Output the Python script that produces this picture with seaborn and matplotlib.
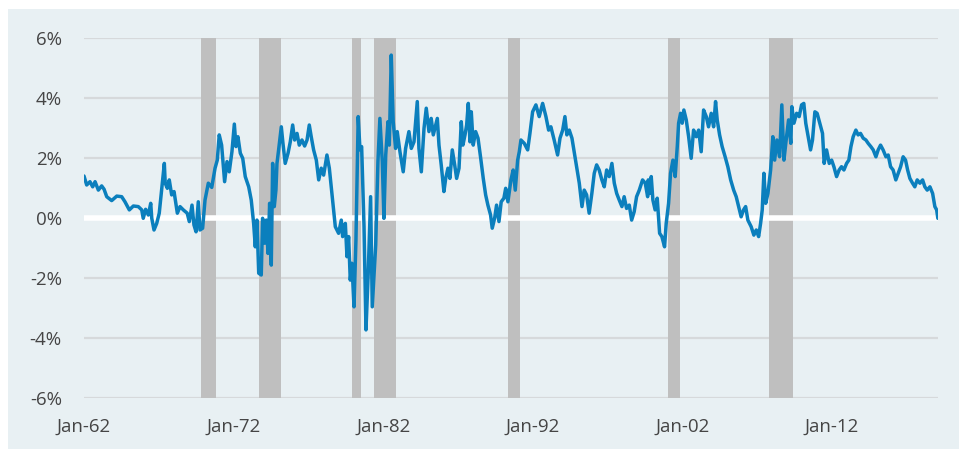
import pandas as pd
import matplotlib.pyplot as plt
import seaborn as sns
from matplotlib.patches import Rectangle


# --- spread series (decimal year, percent) ---
years = [
    1962.00, 1962.18, 1962.40, 1962.58, 1962.74, 1962.96, 1963.18, 1963.34, 1963.52, 1963.85,
    1964.19, 1964.52, 1964.74, 1965.03, 1965.30, 1965.63, 1965.86, 1965.96, 1966.12, 1966.30,
    1966.46, 1966.53, 1966.68, 1966.86, 1967.03, 1967.19, 1967.37, 1967.43, 1967.57, 1967.70,
    1967.86, 1968.02, 1968.24, 1968.42, 1968.64, 1968.90, 1969.04, 1969.22, 1969.35, 1969.49,
    1969.64, 1969.75, 1969.93, 1970.09, 1970.31, 1970.54, 1970.76, 1970.91, 1971.04, 1971.20,
    1971.40, 1971.56, 1971.71, 1971.89, 1972.05, 1972.16, 1972.29, 1972.45, 1972.61, 1972.78,
    1973.01, 1973.18, 1973.34, 1973.45, 1973.56, 1973.68, 1973.85, 1973.94, 1974.08, 1974.19,
    1974.30, 1974.41, 1974.52, 1974.61, 1974.72, 1974.83, 1974.90, 1975.01, 1975.19, 1975.30,
    1975.45, 1975.64, 1975.79, 1975.95, 1976.08, 1976.24, 1976.39, 1976.57, 1976.75, 1976.91,
    1977.06, 1977.19, 1977.35, 1977.53, 1977.69, 1977.86, 1978.02, 1978.24, 1978.40, 1978.53,
    1978.64, 1978.80, 1979.02, 1979.20, 1979.29, 1979.47, 1979.58, 1979.69, 1979.80, 1979.91,
    1980.05, 1980.18, 1980.33, 1980.45, 1980.56, 1980.63, 1980.72, 1980.85, 1981.00, 1981.16,
    1981.27, 1981.50, 1981.65, 1981.78, 1981.94, 1982.05, 1982.17, 1982.32, 1982.41, 1982.54,
    1982.67, 1982.83, 1982.94, 1983.12, 1983.34, 1983.50, 1983.72, 1983.88, 1984.06, 1984.28,
    1984.39, 1984.55, 1984.73, 1984.88, 1985.06, 1985.21, 1985.35, 1985.51, 1985.62, 1985.73,
    1985.88, 1986.06, 1986.18, 1986.33, 1986.46, 1986.62, 1986.78, 1986.91, 1987.07, 1987.22,
    1987.33, 1987.47, 1987.58, 1987.69, 1987.80, 1987.89, 1988.02, 1988.18, 1988.34, 1988.52,
    1988.69, 1988.85, 1989.00, 1989.18, 1989.29, 1989.45, 1989.58, 1989.74, 1989.89, 1990.07,
    1990.19, 1990.34, 1990.54, 1990.69, 1990.83, 1990.99, 1991.10, 1991.21, 1991.43, 1991.66,
    1991.81, 1991.99, 1992.21, 1992.43, 1992.66, 1992.88, 1993.06, 1993.21, 1993.43, 1993.66,
    1993.82, 1994.00, 1994.15, 1994.28, 1994.44, 1994.62, 1994.77, 1994.93, 1995.11, 1995.29,
    1995.44, 1995.60, 1995.77, 1995.95, 1996.11, 1996.27, 1996.44, 1996.62, 1996.78, 1996.94,
    1997.11, 1997.29, 1997.45, 1997.61, 1997.78, 1997.96, 1998.11, 1998.27, 1998.45, 1998.61,
    1998.78, 1998.94, 1999.12, 1999.34, 1999.52, 1999.68, 1999.72, 1999.81, 1999.92, 2000.03,
    2000.18, 2000.32, 2000.48, 2000.63, 2000.81, 2000.92, 2001.08, 2001.21, 2001.37, 2001.52,
    2001.66, 2001.75, 2001.88, 2001.99, 2002.10, 2002.26, 2002.42, 2002.59, 2002.75, 2002.93,
    2003.09, 2003.26, 2003.42, 2003.60, 2003.75, 2003.93, 2004.09, 2004.22, 2004.33, 2004.49,
    2004.66, 2004.86, 2005.04, 2005.23, 2005.43, 2005.60, 2005.76, 2005.93, 2006.09, 2006.23,
    2006.38, 2006.60, 2006.78, 2006.94, 2007.10, 2007.23, 2007.34, 2007.45, 2007.57, 2007.72,
    2007.90, 2008.05, 2008.17, 2008.32, 2008.50, 2008.65, 2008.79, 2008.94, 2009.10, 2009.25,
    2009.32, 2009.46, 2009.64, 2009.81, 2009.97, 2010.12, 2010.25, 2010.41, 2010.57, 2010.70,
    2010.86, 2011.01, 2011.19, 2011.37, 2011.48, 2011.64, 2011.82, 2011.98, 2012.13, 2012.31,
    2012.48, 2012.64, 2012.80, 2012.98, 2013.13, 2013.27, 2013.42, 2013.60, 2013.75, 2013.91,
    2014.09, 2014.27, 2014.42, 2014.60, 2014.76, 2014.94, 2015.09, 2015.25, 2015.42, 2015.61,
    2015.76, 2015.92, 2016.09, 2016.27, 2016.43, 2016.59, 2016.76, 2016.92, 2017.06, 2017.21,
    2017.39, 2017.54, 2017.70, 2017.88, 2018.06, 2018.21, 2018.37, 2018.55, 2018.73, 2018.88,
    2019.00, 2019.08,
]
spread = [
    1.40, 1.10, 1.21, 1.04, 1.21, 0.93, 1.07, 0.96, 0.71, 0.58,
    0.73, 0.71, 0.54, 0.27, 0.40, 0.38, 0.27, -0.01, 0.29, 0.10,
    0.49, -0.01, -0.40, -0.18, 0.16, 0.93, 1.82, 1.16, 0.99, 1.27,
    0.77, 0.88, 0.16, 0.38, 0.27, 0.16, -0.12, 0.43, -0.23, -0.46,
    0.54, -0.40, -0.34, 0.60, 1.16, 1.02, 1.66, 1.93, 2.77, 2.43,
    1.21, 1.88, 1.54, 2.21, 3.13, 2.38, 2.71, 2.16, 1.99, 1.38,
    1.04, 0.60, -0.18, -0.96, -0.07, -1.84, -1.90, -0.01, -0.84, -0.07,
    -1.18, 0.49, -1.57, 1.82, 0.38, 0.93, 1.82, 2.27, 3.04, 2.49,
    1.82, 2.16, 2.54, 3.10, 2.60, 2.82, 2.43, 2.60, 2.40, 2.60,
    3.10, 2.71, 2.27, 1.93, 1.27, 1.66, 1.43, 2.10, 1.66, 1.04,
    0.49, -0.29, -0.51, -0.07, -0.62, -0.18, -1.29, -0.62, -2.07, -1.51,
    -2.96, -0.73, 3.38, 2.27, 2.38, 1.16, -0.29, -3.73, -1.84, 0.71,
    -2.96, -0.90, 1.88, 3.32, 1.88, -0.01, 2.10, 3.21, 2.43, 5.43,
    3.21, 2.32, 2.88, 2.21, 1.54, 2.32, 2.88, 2.32, 2.54, 3.88,
    2.32, 1.54, 2.99, 3.66, 2.88, 3.32, 2.77, 3.10, 3.32, 2.43,
    1.77, 0.88, 1.32, 1.66, 1.32, 2.27, 1.77, 1.32, 1.66, 3.21,
    2.43, 2.77, 3.10, 3.82, 2.54, 3.54, 2.43, 2.88, 2.66, 1.99,
    1.32, 0.77, 0.43, 0.10, -0.34, -0.01, 0.43, -0.12, 0.54, 0.66,
    0.99, 0.54, 1.27, 1.60, 0.93, 1.93, 2.21, 2.60, 2.49, 2.27,
    2.82, 3.54, 3.77, 3.38, 3.82, 3.38, 2.93, 3.04, 2.60, 2.10,
    2.66, 2.93, 3.38, 2.77, 2.93, 2.66, 2.21, 1.71, 1.16, 0.38,
    0.93, 0.77, 0.16, 0.82, 1.49, 1.77, 1.60, 1.27, 1.04, 1.60,
    1.38, 1.82, 1.16, 0.82, 0.60, 0.38, 0.71, 0.32, 0.43, -0.07,
    0.21, 0.71, 0.93, 1.27, 1.16, 0.71, 1.27, 0.82, 1.38, 0.60,
    0.27, 0.66, -0.51, -0.62, -0.96, -0.18, 0.49, 1.49, 1.93, 1.38,
    2.38, 3.16, 3.49, 3.16, 3.60, 3.27, 2.71, 1.99, 2.93, 2.71,
    2.93, 2.21, 3.60, 3.38, 3.04, 3.49, 3.04, 3.88, 3.27, 2.77,
    2.38, 2.04, 1.71, 1.27, 0.93, 0.71, 0.38, 0.04, 0.27, 0.38,
    -0.07, -0.29, -0.57, -0.40, -0.62, -0.18, 0.27, 1.49, 0.49, 0.82,
    1.60, 2.71, 1.93, 2.60, 2.04, 3.77, 1.93, 2.60, 3.27, 2.49,
    3.71, 3.16, 3.49, 3.38, 3.77, 3.82, 3.16, 2.71, 2.27, 2.60,
    3.54, 3.49, 3.16, 2.82, 1.82, 2.27, 1.82, 1.93, 1.71, 1.38,
    1.60, 1.71, 1.60, 1.82, 1.93, 2.38, 2.71, 2.93, 2.77, 2.82,
    2.66, 2.60, 2.49, 2.38, 2.27, 2.04, 2.27, 2.43, 2.27, 2.04,
    2.10, 1.71, 1.60, 1.27, 1.49, 1.71, 2.04, 1.93, 1.60, 1.32,
    1.16, 1.04, 1.27, 1.16, 1.27, 1.04, 0.93, 1.04, 0.82, 0.38,
    0.27, -0.01,
]

# recession shading (start, end) in decimal years
rec_start = [1969.82, 1973.70, 1979.91, 1981.38, 1990.34, 2001.04, 2007.79]
rec_end = [1970.82, 1975.17, 1980.52, 1982.86, 1991.14, 2001.84, 2009.39]

tick_years = [1962, 1972, 1982, 1992, 2002, 2012]
tick_labels = ['Jan-62', 'Jan-72', 'Jan-82', 'Jan-92', 'Jan-02', 'Jan-12']
y_ticks = [-6, -4, -2, 0, 2, 4, 6]

df = pd.DataFrame({'year': years, 'spread': spread})

PANEL = '#E8F0F3'
sns.set_style('white', {'axes.facecolor': PANEL})
plt.rcParams['font.family'] = ['Open Sans', 'DejaVu Sans']

fig = plt.figure(figsize=(9.59, 4.49), dpi=100, facecolor='white')
# light panel behind everything, leaving a thin white strip at top/left
fig.patches.append(Rectangle((8 / 959, 0), 1, (449 - 9) / 449, transform=fig.transFigure,
                             facecolor=PANEL, edgecolor='none', zorder=-10))
ax = fig.add_axes([84 / 959, 1 - 398 / 449, (938 - 84) / 959, 360 / 449])
ax.patch.set_visible(False)

# gridlines
for v in y_ticks:
    if v != 0:
        ax.axhline(v, color='#D6D9DB', lw=1.6, zorder=1)

# recessions
for s, e in zip(rec_start, rec_end):
    ax.axvspan(s, e, color='#BFBFBF', lw=0, zorder=2)

ax.axhline(0, color='white', lw=4, zorder=3)

sns.lineplot(data=df, x='year', y='spread', color='#0B7FBD', linewidth=2.5, ax=ax, zorder=4)

ax.set_xlim(1962, 2019.09)
ax.set_ylim(-6, 6)
ax.set_xticks(tick_years)
ax.set_xticklabels(tick_labels)
ax.set_yticks(y_ticks)
ax.set_yticklabels([f'{v}%' for v in y_ticks])
ax.tick_params(axis='both', length=0, labelsize=13.5, labelcolor='#454545')
ax.tick_params(axis='y', pad=16)
ax.tick_params(axis='x', pad=14)
ax.set_xlabel('')
ax.set_ylabel('')
for sp in ax.spines.values():
    sp.set_visible(False)

fig.savefig('out.png', dpi=100, facecolor='white')
